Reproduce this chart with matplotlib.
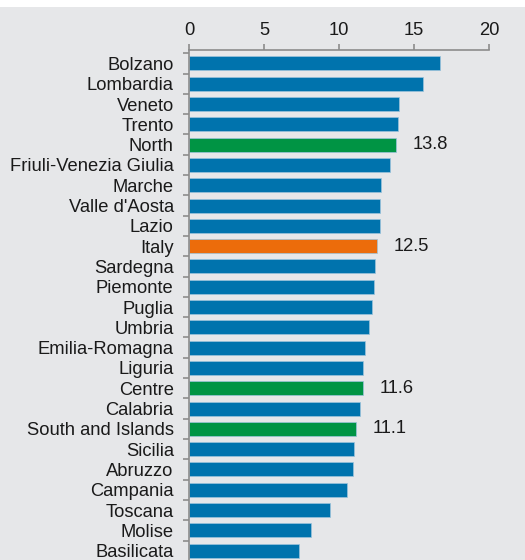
import matplotlib
matplotlib.use("Agg")
import matplotlib.pyplot as plt
from matplotlib.patches import Rectangle

# dati
regions = ["Bolzano", "Lombardia", "Veneto", "Trento", "North",
           "Friuli-Venezia Giulia", "Marche", "Valle d'Aosta", "Lazio", "Italy",
           "Sardegna", "Piemonte", "Puglia", "Umbria", "Emilia-Romagna",
           "Liguria", "Centre", "Calabria", "South and Islands", "Sicilia",
           "Abruzzo", "Campania", "Toscana", "Molise", "Basilicata"]
values = [16.7, 15.6, 14.0, 13.9, 13.8,
          13.4, 12.8, 12.7, 12.7, 12.5,
          12.4, 12.3, 12.2, 12.0, 11.7,
          11.6, 11.6, 11.4, 11.1, 11.0,
          10.9, 10.5, 9.4, 8.1, 7.3]
labelled = ["North", "Italy", "Centre", "South and Islands"]
x_ticks = [0, 5, 10, 15, 20]

BLUE = "#0073ad"
GREEN = "#009444"
ORANGE = "#ec6c0b"
BG = "#e6e7e9"
GRID = "#8c8c8c"
FS = 13.2

plt.rcParams['font.family'] = ['Liberation Sans', 'DejaVu Sans']

fig = plt.figure(figsize=(5.25, 5.6), dpi=100, facecolor="white")
fig.patches.append(Rectangle((0, 0), 1, 1 - 7 / 560, transform=fig.transFigure,
                             facecolor=BG, edgecolor="none", zorder=-1))

ax = fig.add_axes([189 / 525, 0, 300 / 525, 1 - 50 / 560])
ax.set_facecolor("none")

colors = []
for r in regions:
    if r == "Italy":
        colors.append(ORANGE)
    elif r in ("North", "Centre", "South and Islands"):
        colors.append(GREEN)
    else:
        colors.append(BLUE)

pos = list(range(len(regions)))
ax.barh(pos, values, height=0.69, color=colors, edgecolor="#9cc3dc", linewidth=0.5)

for i, (r, v) in enumerate(zip(regions, values)):
    if r in labelled:
        ax.annotate(f"{v:.1f}", xy=(v, i), xytext=(12, 0), textcoords="offset points",
                    va="center", ha="left", fontsize=FS, color="#1a1a1a")

ax.set_xlim(0, 20)
ax.set_ylim(len(regions) - 1 + 0.46, -0.66)

ax.xaxis.tick_top()
ax.set_xticks(x_ticks)
ax.set_xticklabels([str(t) for t in x_ticks], fontsize=FS, color="#1a1a1a")
ax.tick_params(axis="x", direction="out", length=4, width=1.2, color=GRID, pad=4)

# tick a sinistra tra le barre, etichette al centro
ax.set_yticks([i + 0.5 for i in pos[:-1]] + [-0.5])
ax.set_yticklabels([])
ax.set_yticks(pos, minor=True)
ax.set_yticklabels(regions, minor=True, fontsize=FS, color="#1a1a1a")
ax.tick_params(axis="y", which="major", direction="out", length=4, width=1.2, color=GRID)
ax.tick_params(axis="y", which="minor", length=0, pad=11)

for s in ["right", "bottom"]:
    ax.spines[s].set_visible(False)
for s in ["top", "left"]:
    ax.spines[s].set_color(GRID)
    ax.spines[s].set_linewidth(1.2)

fig.savefig("out.png", dpi=100, facecolor=fig.get_facecolor())
